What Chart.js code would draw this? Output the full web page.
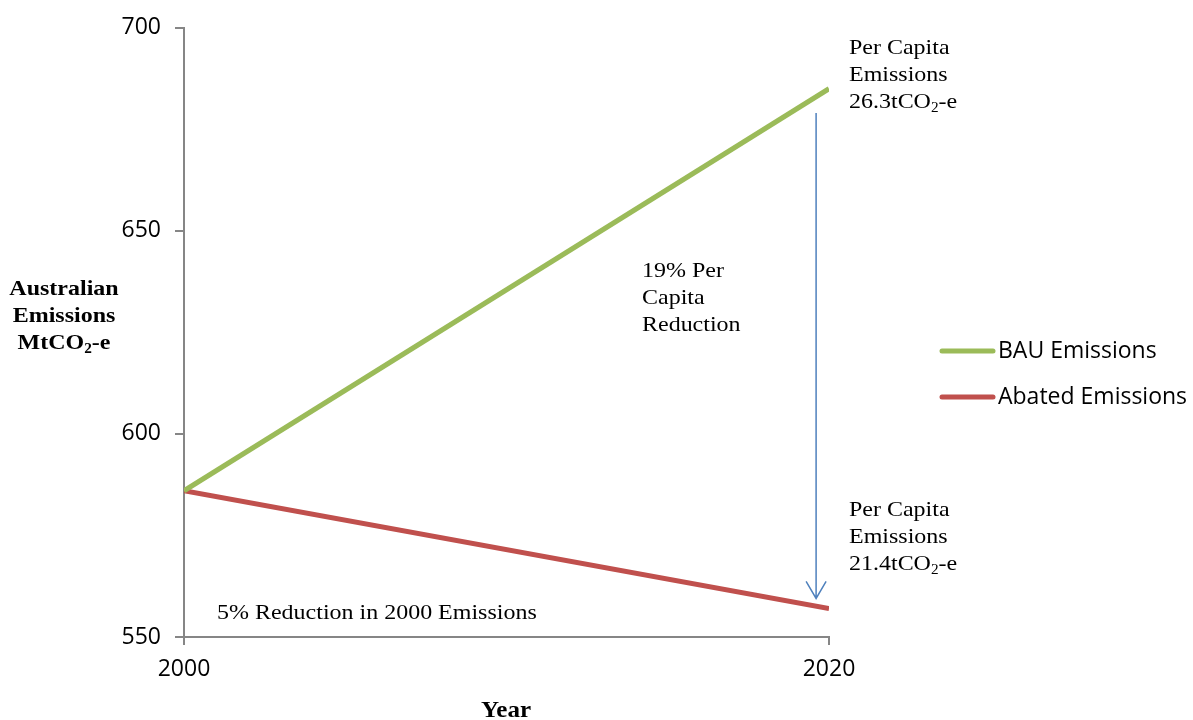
<!DOCTYPE html>
<html><head><meta charset="utf-8">
<script src="https://cdn.jsdelivr.net/npm/chart.js@4.4.1/dist/chart.umd.min.js"></script>
<style>html,body{margin:0;padding:0;background:#fff}#wrap{width:1193px;height:720px;position:relative}</style>
</head><body><div id="wrap"><canvas id="c" width="1193" height="720"></canvas></div>
<script>
// ---- data ----
const years = [2000, 2020];
const bauEmissions = [586, 685];
const abatedEmissions = [586, 557];
const seriesLabels = ['BAU Emissions', 'Abated Emissions'];
const seriesColors = ['#9bbb59', '#c0504d'];
const yTickValues = [550, 600, 650, 700];
const xTickLabels = ['2000', '2020'];
const arrowYear = 2019.6;
const arrowFromValue = 679;
const arrowToValue = 559.5;
const yTitleLines = [['Australian'], ['Emissions'], ['MtCO', {sub: '2'}, '-e']];
const xTitle = 'Year';
const noteBAU = [['Per Capita'], ['Emissions'], ['26.3tCO', {sub: '2'}, '-e']];
const noteAbated = [['Per Capita'], ['Emissions'], ['21.4tCO', {sub: '2'}, '-e']];
const noteReduction = [['19% Per'], ['Capita'], ['Reduction']];
const noteFive = [['5% Reduction in 2000 Emissions']];

const SANS = '"Open Sans", sans-serif';
const SERIF = '"Liberation Serif", "Times New Roman", serif';
const STRETCH = 1.09;

function drawRich(ctx, parts, x, y, size, weight, align) {
  const mainFont = weight + ' ' + size + 'px ' + SERIF;
  const subFont = weight + ' ' + Math.round(size * 0.65) + 'px ' + SERIF;
  let total = 0;
  parts.forEach(p => {
    ctx.font = typeof p === 'string' ? mainFont : subFont;
    total += ctx.measureText(typeof p === 'string' ? p : p.sub).width;
  });
  ctx.save();
  ctx.translate(x, y);
  ctx.scale(STRETCH, 1);
  let cx = align === 'center' ? -total / 2 : 0;
  ctx.textAlign = 'left';
  ctx.textBaseline = 'alphabetic';
  parts.forEach(p => {
    if (typeof p === 'string') {
      ctx.font = mainFont; ctx.fillText(p, cx, 0); cx += ctx.measureText(p).width;
    } else {
      ctx.font = subFont; ctx.fillText(p.sub, cx, size * 0.2); cx += ctx.measureText(p.sub).width;
    }
  });
  ctx.restore();
}
function drawBlock(ctx, lines, x, y0, lh, size, weight, align) {
  lines.forEach((parts, i) => drawRich(ctx, parts, x, y0 + i * lh, size, weight, align));
}

const annotations = {
  id: 'annotations',
  afterDraw(chart) {
    const ctx = chart.ctx;
    const xs = chart.scales.x, ys = chart.scales.y;
    ctx.save();
    ctx.fillStyle = '#000';
    drawBlock(ctx, yTitleLines, 64, 295, 27, 22, 'bold', 'center');
    drawRich(ctx, [xTitle], 506, 717, 23, 'bold', 'center');
    drawBlock(ctx, noteBAU, 849, 54, 27, 22, 'normal', 'left');
    drawBlock(ctx, noteAbated, 849, 516, 27, 22, 'normal', 'left');
    drawBlock(ctx, noteReduction, 642, 277, 27, 22, 'normal', 'left');
    drawBlock(ctx, noteFive, 217, 619, 27, 22, 'normal', 'left');

    // arrow
    const ax = xs.getPixelForValue(arrowYear);
    const ay1 = ys.getPixelForValue(arrowFromValue);
    const ay2 = ys.getPixelForValue(arrowToValue);
    ctx.strokeStyle = '#4f81bd';
    ctx.lineWidth = 1.5;
    ctx.beginPath();
    ctx.moveTo(ax, ay1); ctx.lineTo(ax, ay2);
    ctx.moveTo(ax - 10, ay2 - 17); ctx.lineTo(ax, ay2); ctx.lineTo(ax + 10, ay2 - 17);
    ctx.stroke();

    // legend
    const lx = 940, ly = [351, 397];
    chart.data.datasets.forEach((ds, i) => {
      ctx.strokeStyle = ds.borderColor;
      ctx.lineWidth = 5;
      ctx.lineCap = 'round';
      ctx.beginPath();
      ctx.moveTo(lx + 2, ly[i]); ctx.lineTo(lx + 53, ly[i]);
      ctx.stroke();
      ctx.fillStyle = '#000';
      ctx.font = '23px ' + SANS;
      ctx.textAlign = 'left';
      ctx.textBaseline = 'middle';
      ctx.fillText(ds.label, lx + 58, ly[i]);
    });
    ctx.restore();
  }
};

const ctx = document.getElementById('c').getContext('2d');
new Chart(ctx, {
  type: 'line',
  data: {
    datasets: [
      { label: seriesLabels[0], data: years.map((x, i) => ({x, y: bauEmissions[i]})), borderColor: seriesColors[0], backgroundColor: seriesColors[0], borderWidth: 5, pointRadius: 0, fill: false, tension: 0 },
      { label: seriesLabels[1], data: years.map((x, i) => ({x, y: abatedEmissions[i]})), borderColor: seriesColors[1], backgroundColor: seriesColors[1], borderWidth: 5, pointRadius: 0, fill: false, tension: 0 }
    ]
  },
  options: {
    responsive: false,
    devicePixelRatio: 1,
    animation: false,
    layout: { padding: { top: 25, right: 364, bottom: 0, left: 0 } },
    plugins: { legend: { display: false }, tooltip: { enabled: false } },
    scales: {
      x: {
        type: 'linear',
        min: years[0], max: years[years.length - 1],
        afterBuildTicks: s => { s.ticks = years.map(v => ({value: v})); },
        afterFit: s => { s.height = 83; },
        ticks: { callback: (v, i) => xTickLabels[i], color: '#000', font: { family: SANS, size: 23 }, padding: 11, maxRotation: 0 },
        grid: { drawOnChartArea: false, drawTicks: true, tickLength: 8, color: '#868686', lineWidth: 2 },
        border: { color: '#868686', width: 2 }
      },
      y: {
        min: yTickValues[0], max: yTickValues[yTickValues.length - 1],
        afterBuildTicks: s => { s.ticks = yTickValues.map(v => ({value: v})); },
        afterFit: s => { s.width = 184; },
        ticks: { color: '#000', font: { family: SANS, size: 23 }, padding: 14 },
        grid: { drawOnChartArea: false, drawTicks: true, tickLength: 9, color: '#868686', lineWidth: 2 },
        border: { color: '#868686', width: 2 }
      }
    }
  },
  plugins: [annotations]
});
</script>
</body></html>
